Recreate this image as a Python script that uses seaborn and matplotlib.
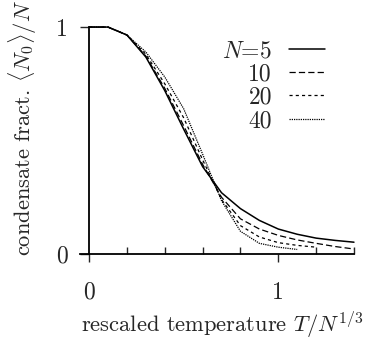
import matplotlib
matplotlib.use('Agg')
import matplotlib.pyplot as plt
import matplotlib.ticker as mticker
import seaborn as sns
import pandas as pd
import numpy as np

# Datos (fracción de condensado vs temperatura reescalada)
temp = [0.0, 0.1, 0.2, 0.3, 0.4, 0.5, 0.6, 0.7, 0.8, 0.9, 1.0, 1.1, 1.2, 1.3, 1.4]
frac_n5 = [1.0, 1.0, 0.965, 0.868, 0.72, 0.55, 0.385, 0.27, 0.2, 0.148, 0.11, 0.087, 0.07, 0.06, 0.052]
frac_n10 = [1.0, 1.0, 0.965, 0.872, 0.73, 0.565, 0.395, 0.25, 0.155, 0.11, 0.082, 0.062, 0.047, 0.033, 0.022]
frac_n20 = [1.0, 1.0, 0.965, 0.88, 0.75, 0.6, 0.415, 0.24, 0.125, 0.075, 0.05, 0.038, 0.03]
frac_n40 = [1.0, 1.0, 0.965, 0.89, 0.78, 0.64, 0.44, 0.235, 0.1, 0.047, 0.03, 0.02]
tamanos = [5, 10, 20, 40]
etiquetas = ['$N$=5', '10', '20', '40']

filas = []
for n, serie in zip(tamanos, [frac_n5, frac_n10, frac_n20, frac_n40]):
    for t, f in zip(temp, serie):
        filas.append({'T': t, 'frac': f, 'N': n})
df = pd.DataFrame(filas)

sns.set_style('white')
plt.rcParams['font.family'] = 'serif'
plt.rcParams['font.serif'] = ['cmr10', 'DejaVu Serif']
plt.rcParams['mathtext.fontset'] = 'cm'
plt.rcParams['axes.unicode_minus'] = False

FS = 17          # ticks y leyenda
FS_LABEL = 16.2  # títulos de ejes

fig = plt.figure(figsize=(3.69, 3.47), dpi=100)
ax = fig.add_axes([0.2168, 0.268, 0.7425, 0.654])

estilos = {5: '', 10: (5, 2.5), 20: (2.5, 2.5), 40: (1, 0.8)}
grosores = {5: 1.1, 10: 0.9, 20: 0.9, 40: 0.9}
sns.lineplot(data=df, x='T', y='frac', hue='N', style='N',
             palette=['black'] * 4, dashes=estilos, ax=ax, legend=False)
for linea, n in zip(ax.get_lines(), tamanos):
    linea.set_linewidth(grosores[n])
    linea.set_clip_on(False)

ax.set_xlim(-0.048, 1.4)
ax.set_ylim(0, 1)
ax.spines['left'].set_position(('data', 0))
ax.spines['top'].set_visible(False)
ax.spines['right'].set_visible(False)
for s in ['left', 'bottom']:
    ax.spines[s].set_linewidth(1.3)
    ax.spines[s].set_color('black')

ax.set_xticks([0, 1])
ax.set_xticklabels(['0', '1'])
ax.xaxis.set_minor_locator(mticker.FixedLocator([0.2, 0.4, 0.6, 0.8, 1.2, 1.4]))
ax.set_yticks([0, 1])
ax.set_yticklabels(['0', '1'])
ax.tick_params(axis='x', which='major', direction='out', length=6, width=1, pad=14,
               labelsize=FS, bottom=True)
ax.tick_params(axis='x', which='minor', direction='in', length=5, width=1, bottom=True)
ax.tick_params(axis='y', which='major', direction='out', length=6.5, width=1, pad=9,
               labelsize=FS, left=True)

ax.set_xlabel(r'rescaled temperature $T/N^{1/3}$', fontsize=FS_LABEL, va='baseline')
ax.set_ylabel(r'condensate fract. $\langle N_0\rangle/N$', fontsize=FS_LABEL)
ax.xaxis.set_label_coords(0.52, -0.344)
ax.yaxis.set_label_coords(-0.155, 0.555)

ax.legend(ax.get_lines(), etiquetas, loc='upper right', bbox_to_anchor=(0.938, 0.995),
          markerfirst=False, frameon=False, fontsize=FS, borderpad=0,
          handlelength=1.55, handletextpad=0.7, labelspacing=0.05)

fig.savefig('out.png', dpi=100)
